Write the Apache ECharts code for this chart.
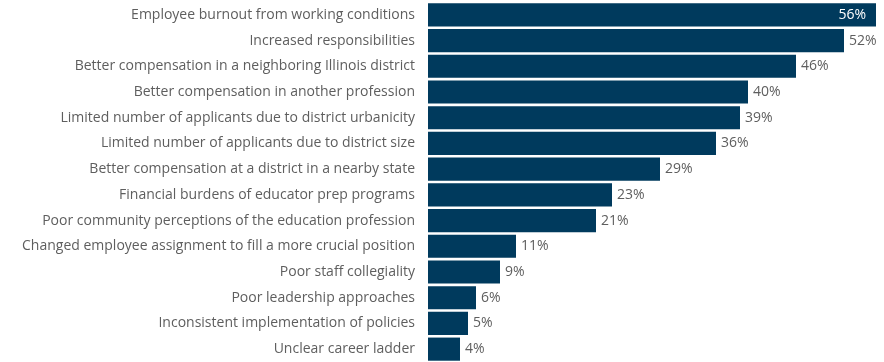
<!DOCTYPE html>
<html>
<head>
<meta charset="utf-8">
<script src="https://cdn.jsdelivr.net/npm/echarts@6/dist/echarts.min.js"></script>
<style>
  html, body { margin: 0; padding: 0; background: #ffffff; }
  #chart { width: 884px; height: 362px; }
</style>
</head>
<body>
<div id="chart"></div>
<script>
// Reasons cited, top to bottom
const reasons = [
  'Employee burnout from working conditions',
  'Increased responsibilities',
  'Better compensation in a neighboring Illinois district',
  'Better compensation in another profession',
  'Limited number of applicants due to district urbanicity',
  'Limited number of applicants due to district size',
  'Better compensation at a district in a nearby state',
  'Financial burdens of educator prep programs',
  'Poor community perceptions of the education profession',
  'Changed employee assignment to fill a more crucial position',
  'Poor staff collegiality',
  'Poor leadership approaches',
  'Inconsistent implementation of policies',
  'Unclear career ladder'
];
// Share of respondents (%)
const shares = [56, 52, 46, 40, 39, 36, 29, 23, 21, 11, 9, 6, 5, 4];

const barColor = '#003a5d';
const textColor = '#5e5e5e';

const data = shares.map((v, i) => {
  const item = { value: v };
  if (i === 0) {
    item.label = { position: 'insideRight', color: '#ffffff', distance: 10 };
  }
  return item;
});

const chart = echarts.init(document.getElementById('chart'));
chart.setOption({
  animation: false,
  grid: { left: 428, right: 8, top: 2, bottom: 0, containLabel: false },
  xAxis: {
    type: 'value', min: 0, max: 56,
    show: false
  },
  yAxis: {
    type: 'category',
    data: reasons,
    inverse: true,
    axisLine: { show: false },
    axisTick: { show: false },
    axisLabel: {
      color: textColor,
      fontFamily: 'Open Sans',
      fontSize: 14,
      margin: 13
    }
  },
  series: [{
    type: 'bar',
    data: data,
    barCategoryGap: '10%',
    itemStyle: { color: barColor },
    label: {
      show: true,
      position: 'right',
      distance: 5,
      formatter: '{c}%',
      color: textColor,
      fontFamily: 'Open Sans',
      fontSize: 14
    }
  }]
});
</script>
</body>
</html>
